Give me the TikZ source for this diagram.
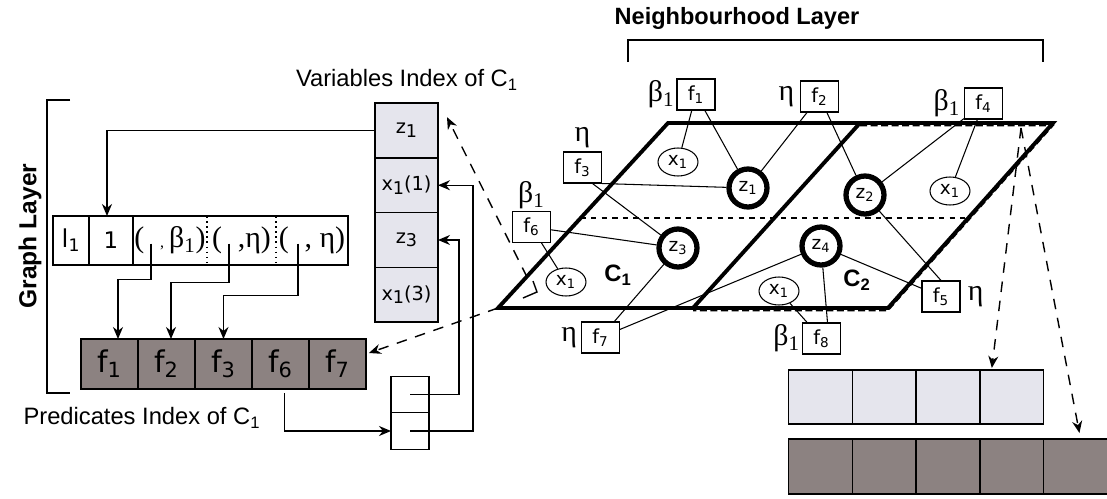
\documentclass[tikz,border=0pt]{standalone}
\usepackage{fontspec}
\setmainfont{Liberation Sans}
\newfontfamily\dvsfont{DejaVu Sans}
\newfontfamily\grkfont{Liberation Serif}
\usetikzlibrary{shapes.geometric, arrows.meta, positioning, calc}
\definecolor{varGrey}{RGB}{229,229,237}
\definecolor{predGrey}{RGB}{140,130,129}
\newcommand{\low}[1]{\raisebox{-0.35ex}{\fontsize{10}{12}\selectfont #1}}

\begin{document}
\begin{tikzpicture}[x=0.02cm, y=-0.02cm,
    fbox/.style={rectangle, draw, line width=0.6pt, minimum width=0.76cm, minimum height=0.62cm, inner sep=0pt, font=\dvsfont\fontsize{11}{13}\selectfont},
    zcirc/.style={circle, draw, line width=3pt, minimum size=0.76cm, inner sep=0pt, font=\dvsfont\fontsize{10.5}{12}\selectfont},
    xell/.style={ellipse, draw, line width=0.6pt, minimum width=0.8cm, minimum height=0.56cm, inner sep=0pt, font=\dvsfont\fontsize{10.5}{12}\selectfont},
    lbl/.style={inner sep=0pt, font=\grkfont\fontsize{17}{18}\selectfont},
    vcell/.style={rectangle, draw, line width=0.9pt, fill=varGrey, minimum width=1.26cm, minimum height=1.095cm, inner sep=0pt, outer sep=0pt, font=\dvsfont\fontsize{11}{13}\selectfont},
    pcell/.style={rectangle, draw, line width=0.9pt, fill=predGrey, minimum width=1.14cm, minimum height=1.0cm, inner sep=0pt, outer sep=0pt, font=\dvsfont\fontsize{17}{19}\selectfont},
    rcell/.style={rectangle, minimum height=0.98cm, inner sep=0pt, outer sep=0pt},
    sbox/.style={rectangle, draw, line width=0.7pt, minimum width=0.76cm, minimum height=0.73cm, inner sep=0pt, outer sep=0pt},
    acell/.style={rectangle, draw, line width=0.9pt, fill=varGrey, minimum width=1.275cm, minimum height=1.08cm, inner sep=0pt, outer sep=0pt},
    bcell/.style={acell, fill=predGrey, minimum height=1.1cm},
    arr/.style={-{Stealth[length=2.4mm, width=2mm]}, line width=0.8pt},
    darr/.style={arr, dash pattern=on 6pt off 5pt},
    link/.style={line width=0.6pt},
    rim/.style={line width=2.2pt},
    title/.style={font=\fontsize{13.5}{16}\selectfont}
  ]
  \useasboundingbox (0,0) rectangle (1107,498);

  % titles and brackets
  \node[font=\bfseries\fontsize{13.4}{16}\selectfont] (ntitle) at (737,18) {Neighbourhood Layer};
  \draw[line width=1.2pt] (628,62) -- (628,40) -- (1043,40) -- (1043,62);
  \node[rotate=90, font=\bfseries\fontsize{14}{16}\selectfont] (gtitle) at (30,236) {Graph Layer};
  \draw[line width=1.2pt] (70,100) -- (47,100) -- (47,393) -- (70,393);
  \node[title] (vtitle) at (407,80) {Variables Index of C\textsubscript{1}};
  \node[title] (ptitle) at (142,418) {Predicates Index of C\textsubscript{1}};

  % clause row
  \node[rcell, minimum width=0.72cm] (rl) at (71,240.5) {\dvsfont\fontsize{14}{16}\selectfont l\textsubscript{1}};
  \node[rcell, minimum width=0.88cm, right=0pt of rl] (rone) {\dvsfont\fontsize{13}{15}\selectfont 1};
  \node[rcell, minimum width=1.48cm, right=0pt of rone] (rb) {\grkfont\fontsize{17}{18}\selectfont (\hspace{9pt}{\fontsize{9}{9}\selectfont ,}\,β\textsubscript{1})};
  \node[rcell, minimum width=1.38cm, right=0pt of rb] (re1) {\grkfont\fontsize{17}{18}\selectfont (\hspace{9pt},η)};
  \node[rcell, minimum width=1.44cm, right=0pt of re1] (re2) {\grkfont\fontsize{17}{18}\selectfont (\hspace{9pt}, η)};
  \draw[line width=0.9pt] (rl.north west) rectangle (re2.south east);
  \draw[line width=0.9pt] (rl.north east) -- (rl.south east);
  \draw[line width=0.9pt] (rone.north east) -- (rone.south east);
  \draw[dotted, line width=0.9pt] (rb.north east) -- (rb.south east);
  \draw[dotted, line width=0.9pt] (re1.north east) -- (re1.south east);

  % predicates index
  \node[pcell] (p1) at (109.5,364) {f\textsubscript{1}};
  \node[pcell, right=0pt of p1] (p2) {f\textsubscript{2}};
  \node[pcell, right=0pt of p2] (p3) {f\textsubscript{3}};
  \node[pcell, right=0pt of p3] (p6) {f\textsubscript{6}};
  \node[pcell, right=0pt of p6] (p7) {f\textsubscript{7}};

  % variables index
  \node[vcell] (vz1) at (406.5,130.5) {z\low{1}};
  \node[vcell, below=0pt of vz1] (vx1) {x\low{1}(1)};
  \node[vcell, below=0pt of vx1] (vz3) {z\low{3}};
  \node[vcell, below=0pt of vz3] (vx3) {x\low{1}(3)};

  % pointer boxes
  \node[sbox] (q1) at (410,394.5) {};
  \node[sbox, below=0pt of q1] (q2) {};

  \draw[arr] (vz1.west) -| ($(rone.north)+(-4,0)$);
  \draw[arr] ($(rb.west)+(18,3)$) -- ++(0,36) -| ($(p1.north)+(8.5,0)$);
  \draw[arr] ($(re1.west)+(22,3)$) -- ++(0,39) -| ($(p2.north)+(4.5,0)$);
  \draw[arr] ($(re2.west)+(22,3)$) -- ++(0,52) -| (p3.north);
  \draw[arr] ($(p6.south)+(4,4)$) |- (q2.west);
  \draw[arr] (q1.center) -- ++(49,0) |- (vz3.east);
  \draw[arr] (q2.center) -- ++(63,0) |- (vx1.east);

  % neighbourhood layer
  \coordinate (A) at (668,123);
  \coordinate (B) at (860,123);
  \coordinate (C) at (1053,123);
  \coordinate (D) at (888,308);
  \coordinate (E) at (693,308);
  \coordinate (F) at (498,308);
  \draw[dashed, line width=0.9pt] ($(F)!0.486!(A)$) -- ($(D)!0.486!(C)$);
  \draw[rim] (A) -- (C) -- (D) -- (F) -- cycle;
  \draw[rim] (B) -- (E);
  \draw[line width=0.9pt, dash pattern=on 4pt off 2pt] ($(B)+(0,2.5)$) -- ($(C)+(0,2.5)$) -- ($(D)+(0,2.5)$) -- ($(E)+(0,2.5)$);
  \node[font=\bfseries\fontsize{13.5}{16}\selectfont] (c1) at (618,275) {C\textsubscript{1}};
  \node[font=\bfseries\fontsize{13.5}{16}\selectfont] (c2) at (857,280) {C\textsubscript{2}};

  \node[zcirc, fill=white] (z1) at (748,188) {z\textsubscript{1}};
  \node[zcirc, fill=white] (z2) at (865,195) {z\textsubscript{2}};
  \node[zcirc, fill=white] (z3) at (678,248) {z\textsubscript{3}};
  \node[zcirc, fill=white] (z4) at (821,246) {z\textsubscript{4}};
  \node[xell, fill=white] (xa) at (678,162) {x\textsubscript{1}};
  \node[xell, fill=white] (xb) at (950,191) {x\textsubscript{1}};
  \node[xell, fill=white] (xc) at (566,282) {x\textsubscript{1}};
  \node[xell, fill=white] (xd) at (779,291) {x\textsubscript{1}};

  \node[fbox, fill=white] (f1) at (696,94.5) {f\textsubscript{1}};
  \node[fbox, fill=white] (f2) at (819.5,96.5) {f\textsubscript{2}};
  \node[fbox, fill=white] (f3) at (582.5,167.5) {f\textsubscript{3}};
  \node[fbox, fill=white] (f4) at (983.5,103.5) {f\textsubscript{4}};
  \node[fbox, fill=white] (f5) at (941,296.5) {f\textsubscript{5}};
  \node[fbox, fill=white] (f6) at (531.5,227) {f\textsubscript{6}};
  \node[fbox, fill=white] (f7) at (600.5,337.5) {f\textsubscript{7}};
  \node[fbox, fill=white] (f8) at (821.5,338.5) {f\textsubscript{8}};

  \node[lbl, left=1pt of f1] (w1) {β\textsubscript{1}};
  \node[lbl, left=3pt of f2] (w2) {η};
  \node[lbl, above=2pt of f3] (w3) {η};
  \node[lbl, left=2pt of f4] (w4) {β\textsubscript{1}};
  \node[lbl, right=4pt of f5] (w5) {η};
  \node[lbl, above=1pt of f6] (w6) {β\textsubscript{1}};
  \node[lbl, left=2pt of f7] (w7) {η};
  \node[lbl, left=1pt of f8] (w8) {β\textsubscript{1}};

  \draw[link] (f1) -- (xa);
  \draw[link] (f1) -- (z1);
  \draw[link] (f2) -- (z1);
  \draw[link] (f2) -- (z2);
  \draw[link] (f4) -- (z2);
  \draw[link] (f4) -- (xb);
  \draw[link] (f3.south east) -- (z1);
  \draw[link] ($(f3.south)+(10,0)$) -- (z3);
  \draw[link] (f6) -- (z3);
  \draw[link] (f6) -- (xc);
  \draw[link] (f7) -- (z3);
  \draw[link] (f7) -- (z4);
  \draw[link] ($(f8.north)+(6,0)$) -- (z4);
  \draw[link] (f8) -- (xd);
  \draw[link] (f5) -- (z4);
  \draw[link] (f5.north) -- (z2);

  % bottom right arrays
  \node[acell] (a1) at (820.5,397) {};
  \node[acell, right=0pt of a1] (a2) {};
  \node[acell, right=0pt of a2] (a3) {};
  \node[acell, right=0pt of a3] (a4) {};
  \node[bcell] (b1) at (820.5,466.5) {};
  \node[bcell, right=0pt of b1] (b2) {};
  \node[bcell, right=0pt of b2] (b3) {};
  \node[bcell, right=0pt of b3] (b4) {};
  \node[bcell, right=0pt of b4] (b5) {};

  % dashed pointers
  \coordinate (apex) at (1021,128);
  \draw[darr] (apex) -- ($(a4.north west)+(12,-2)$);
  \draw[darr] (apex) -- ($(b5.north)+(4,-6)$);
  \draw[darr] (F) -- ($(p7.east)+(3,-11)$);
  \coordinate (tailv) at (527,277);
  \draw[darr] (tailv) -- ($(vz1.north east)+(9,14)$);
  \draw[line width=0.8pt] (533,281) -- (537,292) -- (523,298);
\end{tikzpicture}
\end{document}
